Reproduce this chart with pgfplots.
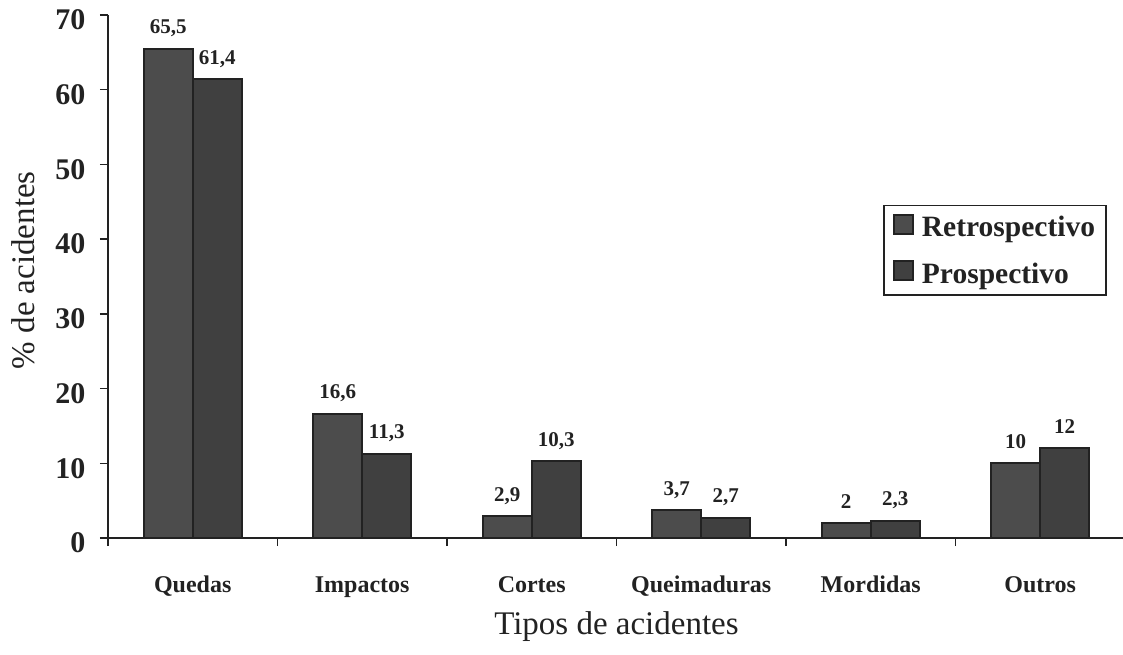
\documentclass[border=0pt]{standalone}
\usepackage{fontspec}
\setmainfont{Liberation Serif}
\usepackage{pgfplots}
\usepackage{pgfplotstable}
\pgfplotsset{compat=1.18}
\definecolor{retro}{HTML}{4C4C4C}
\definecolor{prosp}{HTML}{404040}
\definecolor{edge}{HTML}{222222}
\pgfplotstableread{
x y lbl
0 65.5 65,5
1 16.6 16,6
2 2.9 2,9
3 3.7 3,7
4 2 2
5 10 10
}\retro
\pgfplotstableread{
x y lbl
0 61.4 61,4
1 11.3 11,3
2 10.3 10,3
3 2.7 2,7
4 2.3 2,3
5 12 12
}\prosp
\begin{document}
\begin{tikzpicture}
\begin{axis}[
 scale only axis, width=1017pt, height=523pt,
 xmin=-0.5, xmax=5.5, ymin=0, ymax=70,
 axis lines*=left,
 axis line style={line width=1.8pt, edge},
 ybar=0pt, bar width=49pt,
 ytick={0,10,...,70},
 tick align=outside, major tick length=8pt,
 tick style={line width=1.5pt, edge},
 /pgf/number format/assume math mode=true,
 yticklabel style={font=\fontsize{30}{36}\selectfont\bfseries, xshift=-11pt, yshift=-5pt, text=edge},
 xtick={-0.5,0.5,...,4.5}, xticklabels={},
 extra x ticks={0,1,2,3,4,5},
 extra x tick labels={Quedas,Impactos,Cortes,Queimaduras,Mordidas,Outros},
 extra x tick style={major tick length=0pt, tick style={draw=none}},
 xticklabel style={font=\fontsize{24}{29}\selectfont\bfseries, anchor=base, yshift=-54pt, text=edge},
 xlabel={Tipos de acidentes},
 xlabel style={font=\fontsize{33}{40}\selectfont, at={(axis description cs:0.5,-0.170)}, anchor=center, text=edge},
 ylabel={\% de acidentes},
 ylabel style={font=\fontsize{33}{40}\selectfont, at={(axis description cs:-0.0836,0.512)}, anchor=center, text=edge},
 nodes near coords, point meta=explicit symbolic,
 every node near coord/.append style={font=\fontsize{21}{25}\selectfont\bfseries, anchor=base, yshift=15pt, text=edge},
 legend style={at={(0.762,0.637)}, anchor=north west, draw=edge, line width=1.6pt,
   font=\fontsize{29.5}{35}\selectfont\bfseries, inner xsep=9pt, inner ysep=8pt,
   row sep=20pt, text=edge, /tikz/every odd column/.style={column sep=6pt}},
 legend cell align=left,
 legend image code/.code={\draw[#1, line width=2.2pt] (0pt,-6.5pt) rectangle (19pt,12.5pt);},
]
\addplot[fill=retro, draw=edge, line width=2pt] table[x=x, y=y, meta=lbl]{\retro};
\addplot[fill=prosp, draw=edge, line width=2pt] table[x=x, y=y, meta=lbl]{\prosp};
\legend{Retrospectivo, Prospectivo}
\end{axis}
\pgfresetboundingbox
\path (-108pt,-116pt) rectangle (1015pt,538pt);
\end{tikzpicture}
\end{document}
